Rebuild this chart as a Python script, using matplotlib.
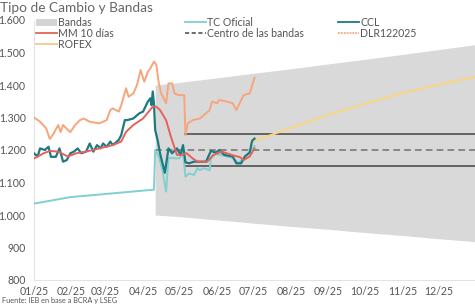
import matplotlib
matplotlib.use("Agg")
import matplotlib.pyplot as plt
from matplotlib.lines import Line2D
from matplotlib.patches import Patch
from matplotlib.ticker import FuncFormatter, MultipleLocator
import pandas as pd

plt.rcParams['font.family'] = ['Lato', 'DejaVu Sans']

# ---------------- data ----------------
dlr_dates = ["2025-01-01","2025-01-06","2025-01-11","2025-01-14","2025-01-17","2025-01-21","2025-01-23",
             "2025-01-25","2025-01-28","2025-01-31","2025-02-04","2025-02-08","2025-02-11","2025-02-16",
             "2025-02-24","2025-03-02","2025-03-05","2025-03-07","2025-03-12","2025-03-14","2025-03-16",
             "2025-03-18","2025-03-20","2025-03-24","2025-03-27","2025-03-30","2025-04-02","2025-04-05",
             "2025-04-07","2025-04-10","2025-04-12","2025-04-14","2025-04-16","2025-04-20","2025-04-22",
             "2025-04-25","2025-04-27","2025-04-30","2025-05-05","2025-05-06","2025-05-08","2025-05-12",
             "2025-05-18","2025-05-23","2025-05-26","2025-05-28","2025-06-01","2025-06-03","2025-06-09",
             "2025-06-14","2025-06-17","2025-06-19","2025-06-23","2025-06-28","2025-07-02"]
dlr_vals = [1300,1287,1267,1234,1249,1277,1255,
            1277,1265,1255,1277,1292,1297,1287,
            1282,1292,1323,1328,1318,1338,1364,
            1390,1364,1374,1400,1446,1410,1441,
            1451,1472,1462,1405,1374,1344,1405,
            1405,1374,1369,1369,1246,1282,1292,
            1297,1313,1323,1349,1344,1354,1349,
            1344,1323,1338,1369,1374,1422]

ccl_dates = ["2025-01-01","2025-01-04","2025-01-06","2025-01-10","2025-01-13","2025-01-15","2025-01-19",
             "2025-01-22","2025-01-25","2025-01-28","2025-01-31","2025-02-03","2025-02-06","2025-02-09",
             "2025-02-13","2025-02-16","2025-02-19","2025-02-22","2025-02-25","2025-02-27","2025-03-02",
             "2025-03-05","2025-03-07","2025-03-12","2025-03-14","2025-03-17","2025-03-19","2025-03-24",
             "2025-03-29","2025-04-01","2025-04-05","2025-04-07","2025-04-08","2025-04-09","2025-04-10",
             "2025-04-11","2025-04-13","2025-04-15","2025-04-17","2025-04-19","2025-04-22","2025-04-25",
             "2025-04-29","2025-05-02","2025-05-04","2025-05-06","2025-05-09","2025-05-13","2025-05-17",
             "2025-05-23","2025-05-27","2025-05-31","2025-06-03","2025-06-07","2025-06-14","2025-06-17",
             "2025-06-21","2025-06-24","2025-06-28","2025-06-30","2025-07-02"]
ccl_vals = [1190,1180,1205,1200,1210,1179,1179,
            1205,1164,1169,1190,1195,1205,1190,
            1195,1220,1195,1215,1205,1220,1210,
            1226,1215,1231,1246,1292,1292,1297,
            1313,1318,1349,1359,1338,1380,1344,
            1262,1231,1190,1160,1130,1205,1190,
            1205,1185,1215,1162,1159,1164,1164,
            1164,1197,1192,1200,1185,1180,1159,
            1159,1180,1192,1228,1235]

ofi_dates = ["2025-01-01","2025-01-31","2025-04-10","2025-04-11","2025-04-14","2025-04-17","2025-04-20",
             "2025-04-22","2025-04-25","2025-05-01","2025-05-04","2025-05-06","2025-05-09","2025-05-13",
             "2025-05-16","2025-05-18","2025-05-21","2025-05-26","2025-05-27","2025-05-31","2025-06-04",
             "2025-06-09","2025-06-14","2025-06-19","2025-06-24","2025-06-29","2025-07-02"]
ofi_vals = [1035,1055,1078,1200,1180,1138,1072,
            1175,1175,1174,1195,1118,1128,1123,
            1144,1138,1144,1138,1174,1188,1185,
            1180,1176,1160,1178,1198,1212]

mm_dates = ["2025-01-01","2025-01-09","2025-01-14","2025-01-21","2025-01-29","2025-02-05","2025-02-13",
            "2025-02-24","2025-03-07","2025-03-14","2025-03-18","2025-03-24","2025-04-01","2025-04-09",
            "2025-04-12","2025-04-15","2025-04-20","2025-04-24","2025-04-29","2025-05-03","2025-05-07",
            "2025-05-12","2025-05-16","2025-05-24","2025-05-29","2025-06-05","2025-06-13","2025-06-20",
            "2025-06-23","2025-06-28","2025-07-02"]
mm_vals = [1174,1190,1197,1195,1180,1190,1195,
           1205,1215,1226,1256,1277,1297,1333,
           1333,1323,1292,1241,1185,1185,1190,
           1174,1164,1164,1185,1195,1185,1178,
           1169,1180,1205]

rofex_dates = ["2025-07-02","2025-08-01","2025-09-01","2025-10-01","2025-11-01","2025-12-01","2025-12-31"]
rofex_vals = [1228,1268,1308,1342,1375,1401,1425]

band_dates = ["2025-04-11","2025-05-01","2025-06-01","2025-07-01","2025-08-01","2025-09-01",
              "2025-10-01","2025-11-01","2025-12-01","2025-12-31"]
band_upper = [1400,1408,1422,1436,1450,1465,1479,1494,1509,1524]
band_lower = [1000,995,985,975,965,956,946,937,927,918]

center_start, center_end, center_val = "2025-04-11", "2025-12-31", 1200
hline_start, hline_end = "2025-05-06", "2025-12-31"
hline_vals = [1150, 1250]

month_ticks = ["2025-%02d-01" % m for m in range(1, 13)]
month_labels = ["%02d/25" % m for m in range(1, 13)]

# ---------------- plot ----------------
D = pd.to_datetime
fig = plt.figure(figsize=(4.75, 3.06), dpi=100)
ax = fig.add_axes([34/475, 1-280/306, 1-34/475, 260/306])

c_band = "#d9d9d9"
c_dlr = "#f7a57c"
c_ccl = "#1c7a80"
c_mm = "#e5615c"
c_ofi = "#82cfcf"
c_rofex = "#f8d684"

ax.fill_between(D(band_dates), band_lower, band_upper, color=c_band, lw=0, zorder=1)
ax.plot(D([center_start, center_end]), [center_val]*2, color="#7a7a7a", lw=1.2,
        ls=(0, (4, 2.5)), zorder=2)
for v in hline_vals:
    ax.plot(D([hline_start, hline_end]), [v, v], color="#5a5a5a", lw=1.3, zorder=2)

ax.plot(D(rofex_dates), rofex_vals, color=c_rofex, lw=1.5, zorder=3)
ax.plot(D(dlr_dates), dlr_vals, color=c_dlr, lw=1.4, zorder=3)
ax.plot(D(ofi_dates), ofi_vals, color=c_ofi, lw=1.4, zorder=3)
ax.plot(D(ccl_dates), ccl_vals, color=c_ccl, lw=1.6, zorder=4)
ax.plot(D(mm_dates), mm_vals, color=c_mm, lw=1.4, zorder=5)

ax.set_xlim(D("2025-01-01"), D("2025-12-31"))
ax.set_ylim(800, 1600)
ax.yaxis.set_major_locator(MultipleLocator(100))
ax.yaxis.set_major_formatter(FuncFormatter(lambda v, p: f"{int(v):,}".replace(",", ".")))
ax.set_xticks(D(month_ticks))
ax.set_xticklabels(month_labels)
ax.tick_params(axis='both', length=0, labelsize=7.6, colors="#555555")
ax.tick_params(axis='y', pad=6)
ax.tick_params(axis='x', pad=4.5)
for s in ["top", "right"]:
    ax.spines[s].set_visible(False)
for s in ["left", "bottom"]:
    ax.spines[s].set_color("#e3e3e3")
    ax.spines[s].set_linestyle((0, (1, 1)))
    ax.spines[s].set_linewidth(0.8)

fig.text(0.0, 1-2/306, "Tipo de Cambio y Bandas", ha="left", va="top", fontsize=9.8, color="#666666")
fig.text(2/475, 1-301/306, "Fuente: IEB en base a BCRA y LSEG", ha="left", va="center",
         fontsize=5.3, color="#555555")

leg_kw = dict(loc="upper left", frameon=False, fontsize=7.6, handlelength=2.0, handletextpad=0.1,
              labelspacing=0.0, borderpad=0, borderaxespad=0, labelcolor="#555555")
y_leg = 1 - 17/306
h1 = [Patch(facecolor="#d4d4d4", edgecolor="none"),
      Line2D([], [], color=c_mm, lw=1.3),
      Line2D([], [], color="#f5c98a", lw=1.3)]
l1 = ax.legend(h1, ["Bandas", "MM 10 días", "ROFEX"], bbox_to_anchor=(36/475, y_leg),
               bbox_transform=fig.transFigure, **leg_kw)
ax.add_artist(l1)
h2 = [Line2D([], [], color=c_ofi, lw=1.3),
      Line2D([], [], color="#555555", lw=1.2, ls=(0, (2.5, 1.5)))]
l2 = ax.legend(h2, ["TC Oficial", "Centro de las bandas"], bbox_to_anchor=(185/475, y_leg),
               bbox_transform=fig.transFigure, **leg_kw)
ax.add_artist(l2)
h3 = [Line2D([], [], color=c_ccl, lw=1.3),
      Line2D([], [], color=c_dlr, lw=1.3, ls=(0, (1, 0.6)))]
ax.legend(h3, ["CCL", "DLR122025"], bbox_to_anchor=(338/475, y_leg),
          bbox_transform=fig.transFigure, **leg_kw)

fig.savefig("out.png", dpi=100)
